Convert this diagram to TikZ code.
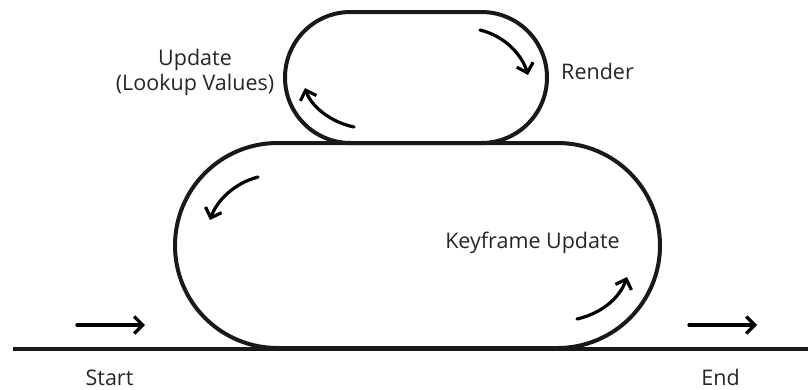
\documentclass[tikz,border=0pt]{standalone}
\usepackage{fontspec}
\setmainfont{Open Sans}
\usetikzlibrary{arrows.meta}
\begin{document}
\begin{tikzpicture}[x=1pt,y=-1pt,
  loopbox/.style={draw=black!90, line width=4pt, rectangle, inner sep=0pt},
  flow/.style={line width=3.2pt, line cap=round, -{Straight Barb[length=8.5pt,width=17pt,line width=3.2pt]}},
  lbl/.style={font=\fontsize{21.5}{26}\selectfont, text=black!85, inner sep=0pt, anchor=base}]
\useasboundingbox (0,0) rectangle (808,389);
\node[loopbox, rounded corners=65.5pt, minimum width=262pt, minimum height=131pt] (top) at (416,77.5) {};
\node[loopbox, rounded corners=102.5pt, minimum width=485pt, minimum height=205pt] (big) at (417.5,245.5) {};
\coordinate (gl) at (13,349);
\coordinate (gr) at (808,349);
\draw[line width=4pt, black!90] (gl) -- (gr);
% curved arrows
\coordinate (a1s) at (480,30); \coordinate (a1e) at (528,75);
\draw[flow] (a1s) .. controls (505,36) and (522,55) .. (a1e);
\coordinate (a2s) at (354,127); \coordinate (a2e) at (305,88);
\draw[flow] (a2s) .. controls (330,122) and (311,106) .. (a2e);
\coordinate (a3s) at (258,177); \coordinate (a3e) at (210,220);
\draw[flow] (a3s) .. controls (235,183) and (217,200) .. (a3e);
\coordinate (a4s) at (577,319); \coordinate (a4e) at (627,277);
\draw[flow] (a4s) .. controls (603,313) and (620,297) .. (a4e);
% straight arrows
\coordinate (s1) at (77,325); \coordinate (s2) at (145,325);
\draw[flow] (s1) -- (s2);
\coordinate (e1) at (689,325); \coordinate (e2) at (757,325);
\draw[flow] (e1) -- (e2);
% labels
\node[lbl] (upd) at (195,65) {Update};
\node[lbl] (look) at (195,90) {(Lookup Values)};
\node[lbl] (ren) at (597.5,79) {Render};
\node[lbl] (key) at (532.5,248) {Keyframe Update};
\node[lbl, text depth=0pt] (start) at (109.5,385) {Start};
\node[lbl, text depth=0pt] (end) at (720.5,385) {End};
\end{tikzpicture}
\end{document}
